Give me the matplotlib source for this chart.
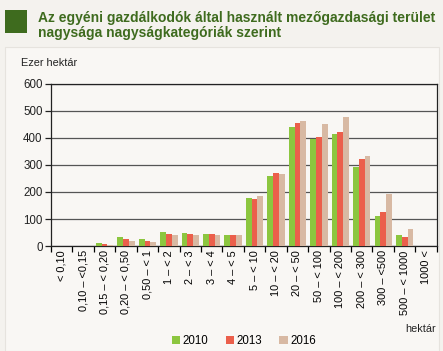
import numpy as np
import matplotlib.pyplot as plt
from matplotlib.patches import Rectangle

# Kategóriák és adatok (ezer hektár)
kategoriak = ['< 0,10', '0,10 – <0,15', '0,15 – < 0,20', '0,20 – < 0,50', '0,50 – < 1',
              '1 – < 2', '2 – < 3', '3 – < 4', '4 – < 5', '5 – < 10', '10 – < 20',
              '20 – < 50', '50 – < 100', '100 – < 200', '200 – < 300', '300 – <500',
              '500 – < 1000', '1000 <']
ev_2010 = [2, 1, 10, 33, 26, 51, 48, 46, 41, 179, 259, 442, 395, 414, 291, 111, 41, 2]
ev_2013 = [1, 1, 9, 26, 20, 46, 44, 43, 40, 173, 270, 457, 405, 421, 323, 125, 35, 2]
ev_2016 = [1, 1, 4, 17, 14, 42, 42, 41, 40, 184, 265, 462, 451, 478, 333, 193, 62, 2]
evek = ['2010', '2013', '2016']
yticks = [0, 100, 200, 300, 400, 500, 600]

szinek = ['#8cc63f', '#eb5f4b', '#d8b9a3']
plt.rcParams['font.family'] = ['Liberation Sans', 'DejaVu Sans']

fig = plt.figure(figsize=(4.43, 3.51), dpi=100)
fig.patch.set_facecolor('#f4f2ee')
fig.patches.append(Rectangle((0.012, 0.0), 0.98, 0.865, transform=fig.transFigure,
                             facecolor='#f9f7f4', edgecolor='#e6e3de', lw=0.8, zorder=-5))
fig.patches.append(Rectangle((0.011, 0.905), 0.05, 0.066, transform=fig.transFigure,
                             facecolor='#3e6b1e', edgecolor='none', zorder=-5))
fig.text(0.085, 0.970, 'Az egyéni gazdálkodók által használt mezőgazdasági terület\nnagysága nagyságkategóriák szerint',
         fontweight='bold', fontsize=10, color='#3e6b1e', va='top', ha='left', linespacing=1.1)

ax = fig.add_axes([0.115, 0.299, 0.871, 0.462], zorder=2)
ax.set_facecolor('#f9f7f4')
x = np.arange(len(kategoriak))
w = 0.27
for i, (vals, ev) in enumerate(zip([ev_2010, ev_2013, ev_2016], evek)):
    ax.bar(x + (i - 1) * w, vals, w, color=szinek[i], label=ev, zorder=3)

ax.set_xlim(-0.5, len(kategoriak) - 0.5)
ax.set_ylim(0, 600)
ax.set_yticks(yticks)
ax.yaxis.grid(True, color='#555555', lw=0.9, zorder=0)
for s in ax.spines.values():
    s.set_color('#222222')
    s.set_linewidth(0.9)
ax.tick_params(axis='y', labelsize=8.3, length=4, width=0.9, pad=2, colors='#222222')
ax.set_xticks(np.arange(len(kategoriak) + 1) - 0.5, minor=False)
ax.set_xticklabels([])
ax.set_xticks(x, minor=True)
ax.set_xticklabels(kategoriak, minor=True, rotation=90, fontsize=7.9)
ax.tick_params(axis='x', which='major', length=4, width=0.9, direction='out')
ax.tick_params(axis='x', which='minor', length=0, pad=3)

fig.text(0.048, 0.805, 'Ezer hektár', fontsize=7.8, ha='left', va='bottom', color='#222222')
fig.text(0.985, 0.048, 'hektár', fontsize=7.8, ha='right', va='bottom', color='#222222')
ax.legend(loc='lower center', bbox_to_anchor=(0.5, -0.65), ncol=3, frameon=False,
          fontsize=8.3, handlelength=0.75, handleheight=0.75, handletextpad=0.2,
          columnspacing=1.5, borderaxespad=0)

fig.savefig('out.png', dpi=100, facecolor=fig.get_facecolor())
